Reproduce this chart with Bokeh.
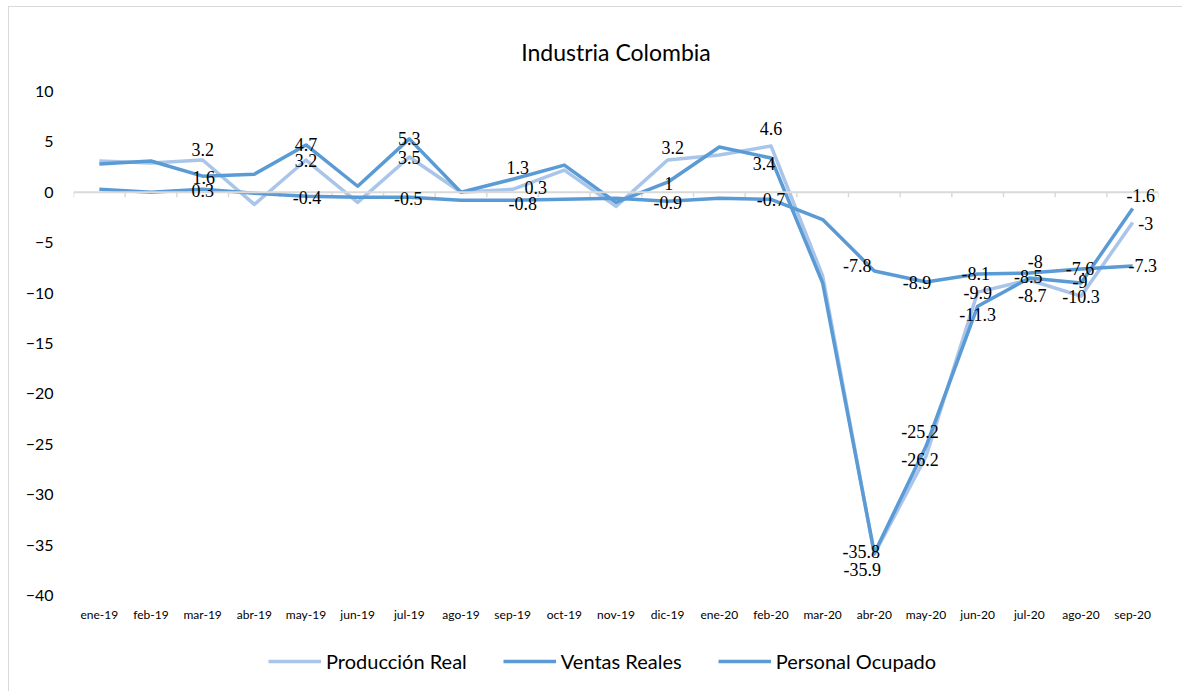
from bokeh.plotting import figure
from bokeh.layouts import column
from bokeh.models import (ColumnDataSource, LabelSet, LinearAxis, FixedTicker,
                          Legend, LegendItem, Title, Range1d, Span)
from bokeh.embed import file_html
from bokeh.resources import INLINE

months = ["ene-19", "feb-19", "mar-19", "abr-19", "may-19", "jun-19", "jul-19",
          "ago-19", "sep-19", "oct-19", "nov-19", "dic-19", "ene-20", "feb-20",
          "mar-20", "abr-20", "may-20", "jun-20", "jul-20", "ago-20", "sep-20"]
produccion = [3.1, 2.9, 3.2, -1.2, 3.2, -1.0, 3.5, 0.0, 0.3, 2.2, -1.4, 3.2, 3.7, 4.6,
              -8.3, -35.9, -26.2, -9.9, -8.7, -10.3, -3.0]
ventas = [2.8, 3.1, 1.6, 1.8, 4.7, 0.6, 5.3, 0.0, 1.3, 2.7, -1.0, 1.0, 4.5, 3.4,
          -9.0, -35.8, -25.2, -11.3, -8.5, -9.0, -1.6]
personal = [0.3, 0.0, 0.3, -0.1, -0.4, -0.5, -0.5, -0.8, -0.8, -0.7, -0.6, -0.9, -0.6, -0.7,
            -2.7, -7.8, -8.9, -8.1, -8.0, -7.6, -7.3]
labelled = [2, 4, 6, 8, 11, 13, 15, 16, 17, 18, 19, 20]
y_ticks = [10, 5, 0, -5, -10, -15, -20, -25, -30, -35, -40]
series_names = ["Producción Real", "Ventas Reales", "Personal Ocupado"]

# label offsets in screen pixels (dx, dy up)
off_prod = [(0, 11), (0, 0), (0, 0), (23, 2), (5, 13), (0, 17), (-12, -15), (-6, -3),
            (0, 0), (3, -16), (0, 0), (13, -1)]
off_vent = [(1, -1), (0, 0), (0, 0), (5, 12), (1, -1), (-7, -5), (-13, 2), (-6, 15),
            (0, -8), (-1, 1), (-1, 2), (8, 13)]
off_pers = [(0, -1), (1, -1), (-1, -1), (10, -3), (0, -1), (0, 0), (-17, 5), (-9, 0),
            (-2, 0), (6, 11), (-1, 0), (10, 0)]

FONT = "Lato"
C_LIGHT = "#A9C5E9"
C_DARK = "#5B9BD5"
colors = [C_LIGHT, C_DARK, C_DARK]
all_series = [produccion, ventas, personal]

x = list(range(len(months)))

p = figure(width=1173, height=618, output_backend="svg", toolbar_location=None,
           x_range=Range1d(-0.5, len(months) - 0.5), y_range=Range1d(-40, 10),
           x_axis_location=None, y_axis_location=None,
           min_border_left=64, min_border_right=24, min_border_top=84, min_border_bottom=30)
p.grid.visible = False
p.outline_line_color = None
p.background_fill_color = "white"
p.border_fill_color = "white"

title = Title(text="Industria Colombia", align="center", text_font=FONT,
              text_font_size="23px", text_font_style="normal", text_color="#000000",
              standoff=52)
p.add_layout(title, "above")

# y axis
yax = LinearAxis(ticker=FixedTicker(ticks=y_ticks), axis_line_color=None,
                 major_tick_line_color=None, minor_tick_line_color=None,
                 major_label_standoff=14, major_label_text_font=FONT,
                 major_label_text_font_size="16px", major_label_text_color="#000000")
p.add_layout(yax, "left")

# category labels at bottom
xax = LinearAxis(ticker=FixedTicker(ticks=x),
                 major_label_overrides={i: m for i, m in enumerate(months)},
                 axis_line_color=None, major_tick_line_color=None,
                 minor_tick_line_color=None, major_label_standoff=5,
                 major_label_text_font=FONT, major_label_text_font_size="12px",
                 major_label_text_color="#000000")
p.add_layout(xax, "below")

# zero line with small ticks between categories
bounds = [i - 0.5 for i in range(len(months) + 1)]
p.segment(x0=bounds, x1=bounds, y0=[0] * len(bounds), y1=[-0.5] * len(bounds),
          line_color="#D9D9D9", line_width=1.5)
p.add_layout(Span(location=0, dimension="width", line_color="#D9D9D9", line_width=2))

for vals, c in zip(all_series, colors):
    p.line(x, vals, line_color=c, line_width=3.5, line_join="round")

def add_labels(values, offs):
    src = ColumnDataSource(dict(
        x=[x[i] for i in labelled],
        y=[values[i] for i in labelled],
        t=[f"{values[i]:g}" for i in labelled],
        dx=[o[0] for o in offs],
        dy=[o[1] for o in offs]))
    ls = LabelSet(x="x", y="y", text="t", x_offset="dx", y_offset="dy", source=src,
                  text_align="center", text_baseline="middle", text_font=FONT,
                  text_font_size="18px", text_color="#000000")
    p.add_layout(ls)

add_labels(produccion, off_prod)
add_labels(ventas, off_vent)
add_labels(personal, off_pers)

# legend strip below the chart (the series are drawn again outside its visible range)
pl = figure(width=1173, height=66, output_backend="svg", toolbar_location=None,
            x_range=Range1d(1000, 1001), y_range=Range1d(1000, 1001),
            x_axis_location=None, y_axis_location=None,
            min_border_left=0, min_border_right=0, min_border_top=0, min_border_bottom=0)
pl.grid.visible = False
pl.outline_line_color = None
pl.background_fill_color = "white"
pl.border_fill_color = "white"
items = []
for name, vals, c in zip(series_names, all_series, colors):
    r = pl.line(x, vals, line_color=c, line_width=3.5)
    items.append(LegendItem(label=name, renderers=[r]))
legend = Legend(items=items, orientation="horizontal", location=(195, 18),
                border_line_color=None, background_fill_alpha=0,
                label_text_font=FONT, label_text_font_size="20px",
                label_text_color="#000000", glyph_width=53, glyph_height=20,
                label_standoff=5, spacing=36, padding=5, margin=0)
pl.add_layout(legend)

layout = column(p, pl, spacing=0,
                styles={"margin-left": "8px", "margin-top": "6px",
                        "border-left": "1px solid #D9D9D9",
                        "border-top": "1px solid #D9D9D9"})

open("out.html", "w").write(file_html(layout, INLINE))
